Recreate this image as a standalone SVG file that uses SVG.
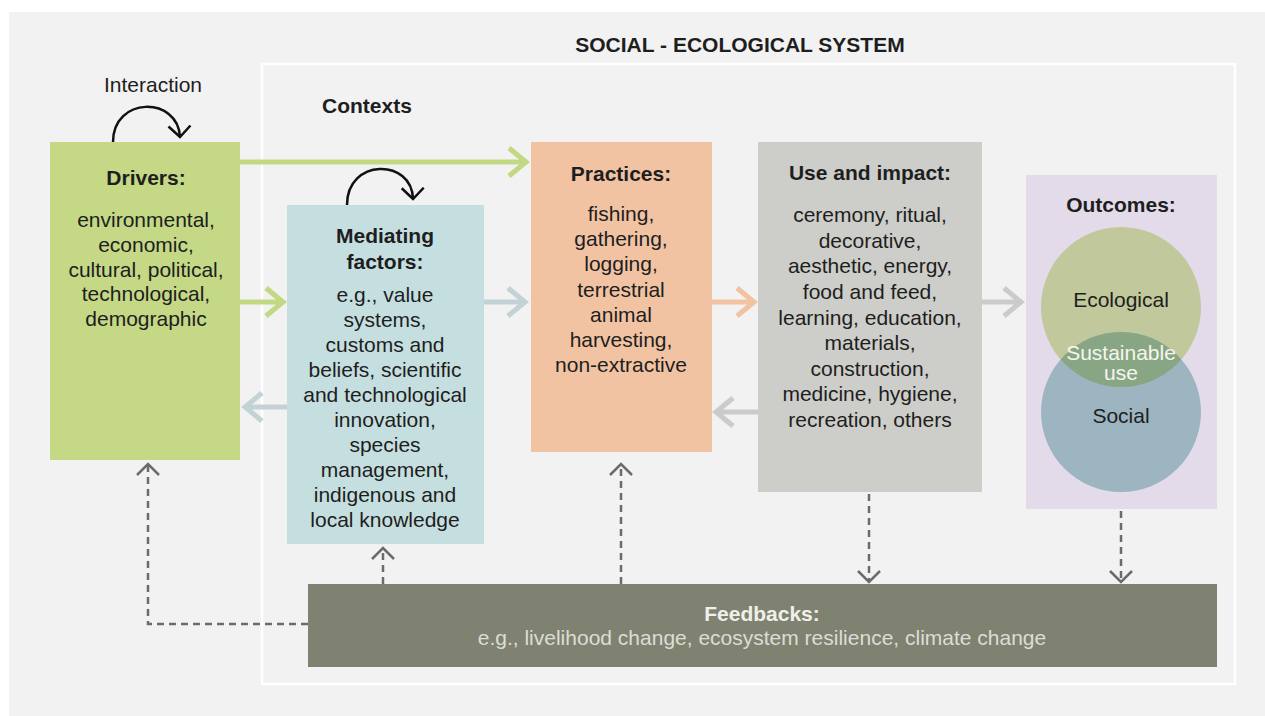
<svg xmlns="http://www.w3.org/2000/svg" width="1265" height="716" viewBox="0 0 1265 716">
<style>
  text { font-family: "Liberation Sans", Arial, sans-serif; font-size: 21px; fill: #1e1e1e; text-anchor: middle; }
  .b { font-weight: bold; }
  .fbt { fill: #f0f0ea; }
  .fbb { fill: #dcddd4; }
  .wt { fill: #f4f6ee; }
  .solid { fill: none; stroke-width: 5; }
  .dash { fill: none; stroke: #6b6b6b; stroke-width: 2.5; stroke-dasharray: 7 5; }
  .loop { fill: none; stroke: #111; stroke-width: 2.5; }
</style>
<defs>
  <marker id="mg" markerUnits="userSpaceOnUse" markerWidth="26" markerHeight="34" viewBox="0 0 26 34" refX="20" refY="17" orient="auto">
    <path d="M3,3 L20,17 L3,31" fill="none" stroke="#c2d883" stroke-width="5"/>
  </marker>
  <marker id="mb" markerUnits="userSpaceOnUse" markerWidth="26" markerHeight="34" viewBox="0 0 26 34" refX="20" refY="17" orient="auto">
    <path d="M3,3 L20,17 L3,31" fill="none" stroke="#c3d3d5" stroke-width="5"/>
  </marker>
  <marker id="mo" markerUnits="userSpaceOnUse" markerWidth="26" markerHeight="34" viewBox="0 0 26 34" refX="20" refY="17" orient="auto">
    <path d="M3,3 L20,17 L3,31" fill="none" stroke="#f1c3a3" stroke-width="5"/>
  </marker>
  <marker id="my" markerUnits="userSpaceOnUse" markerWidth="26" markerHeight="34" viewBox="0 0 26 34" refX="20" refY="17" orient="auto">
    <path d="M3,3 L20,17 L3,31" fill="none" stroke="#cbcbcb" stroke-width="5"/>
  </marker>
  <marker id="md" markerUnits="userSpaceOnUse" markerWidth="16" markerHeight="26" viewBox="0 0 16 26" refX="12" refY="13" orient="auto">
    <path d="M1,2 L12,13 L1,24" fill="none" stroke="#6b6b6b" stroke-width="2.5"/>
  </marker>
  <marker id="mk" markerUnits="userSpaceOnUse" markerWidth="16" markerHeight="26" viewBox="0 0 16 26" refX="12" refY="13" orient="auto">
    <path d="M1,2 L12,13 L1,24" fill="none" stroke="#111" stroke-width="2.5"/>
  </marker>
  <clipPath id="ecoClip"><circle cx="1121" cy="307" r="80"/></clipPath>
</defs>

<rect x="9" y="12" width="1256" height="704" fill="#f2f2f2"/>

<g id="ses-frame">
  <rect x="262" y="64" width="973" height="620" fill="none" stroke="#ffffff" stroke-width="2.5"/>
  <text class="b" x="740" y="52">SOCIAL - ECOLOGICAL SYSTEM</text>
  <text class="b" x="322" y="113" style="text-anchor:start">Contexts</text>
</g>

<g id="interaction-label">
  <text x="153" y="92">Interaction</text>
</g>

<g id="drivers">
  <rect x="50" y="142" width="190" height="318" fill="#c4d886"/>
  <text class="b" x="146" y="185">Drivers:</text>
  <text x="146" y="227">environmental,</text>
  <text x="146" y="252">economic,</text>
  <text x="146" y="277">cultural, political,</text>
  <text x="146" y="301">technological,</text>
  <text x="146" y="326">demographic</text>
</g>

<g id="mediating">
  <rect x="287" y="205" width="197" height="339" fill="#c5dfe0"/>
  <text class="b" x="385" y="243">Mediating</text>
  <text class="b" x="385" y="269">factors:</text>
  <text x="385" y="302">e.g., value</text>
  <text x="385" y="327">systems,</text>
  <text x="385" y="352">customs and</text>
  <text x="385" y="377">beliefs, scientific</text>
  <text x="385" y="402">and technological</text>
  <text x="385" y="427">innovation,</text>
  <text x="385" y="452">species</text>
  <text x="385" y="477">management,</text>
  <text x="385" y="502">indigenous and</text>
  <text x="385" y="527">local knowledge</text>
</g>

<g id="practices">
  <rect x="531" y="142" width="181" height="310" fill="#f1c3a3"/>
  <text class="b" x="621" y="181">Practices:</text>
  <text x="621" y="221">fishing,</text>
  <text x="621" y="246">gathering,</text>
  <text x="621" y="271">logging,</text>
  <text x="621" y="297">terrestrial</text>
  <text x="621" y="322">animal</text>
  <text x="621" y="347">harvesting,</text>
  <text x="621" y="372">non-extractive</text>
</g>

<g id="use-impact">
  <rect x="758" y="142" width="224" height="350" fill="#cdcdc9"/>
  <text class="b" x="870" y="180">Use and impact:</text>
  <text x="870" y="222">ceremony, ritual,</text>
  <text x="870" y="248">decorative,</text>
  <text x="870" y="273">aesthetic, energy,</text>
  <text x="870" y="299">food and feed,</text>
  <text x="870" y="325">learning, education,</text>
  <text x="870" y="350">materials,</text>
  <text x="870" y="376">construction,</text>
  <text x="870" y="401">medicine, hygiene,</text>
  <text x="870" y="427">recreation, others</text>
</g>

<g id="outcomes">
  <rect x="1026" y="175" width="191" height="334" fill="#e3dbea"/>
  <text class="b" x="1121" y="212">Outcomes:</text>
  <circle cx="1121" cy="307" r="80" fill="#c1c89b"/>
  <circle cx="1121" cy="412" r="80" fill="#9cb5c1"/>
  <circle cx="1121" cy="412" r="80" fill="#88a683" clip-path="url(#ecoClip)"/>
  <text x="1121" y="307">Ecological</text>
  <text class="wt" x="1121" y="360">Sustainable</text>
  <text class="wt" x="1121" y="380">use</text>
  <text x="1121" y="423">Social</text>
</g>

<g id="feedbacks">
  <rect x="308" y="584" width="909" height="83" fill="#808271"/>
  <text class="b fbt" x="762" y="621">Feedbacks:</text>
  <text class="fbb" x="762" y="645">e.g., livelihood change, ecosystem resilience, climate change</text>
</g>

<g id="connectors">
  <path class="loop" d="M113,142 C113,96 178,96 180,137" marker-end="url(#mk)"/>
  <path class="loop" d="M347,205 C347,158 412,158 413,199" marker-end="url(#mk)"/>
  <path class="solid" stroke="#c2d883" d="M240,162 L526,162" marker-end="url(#mg)"/>
  <path class="solid" stroke="#c2d883" d="M240,302 L283,302" marker-end="url(#mg)"/>
  <path class="solid" stroke="#c3d3d5" d="M484,302 L525,302" marker-end="url(#mb)"/>
  <path class="solid" stroke="#c3d3d5" d="M287,407 L245,407" marker-end="url(#mb)"/>
  <path class="solid" stroke="#f1c3a3" d="M712,302 L754,302" marker-end="url(#mo)"/>
  <path class="solid" stroke="#cbcbcb" d="M758,412 L716,412" marker-end="url(#my)"/>
  <path class="solid" stroke="#cbcbcb" d="M982,302 L1021,302" marker-end="url(#my)"/>
  <path class="dash" d="M308,624 L148,624 L148,464" marker-end="url(#md)"/>
  <path class="dash" d="M383,584 L383,548" marker-end="url(#md)"/>
  <path class="dash" d="M621,584 L621,464" marker-end="url(#md)"/>
  <path class="dash" d="M869,494 L869,582" marker-end="url(#md)"/>
  <path class="dash" d="M1121,511 L1121,582" marker-end="url(#md)"/>
</g>
</svg>
